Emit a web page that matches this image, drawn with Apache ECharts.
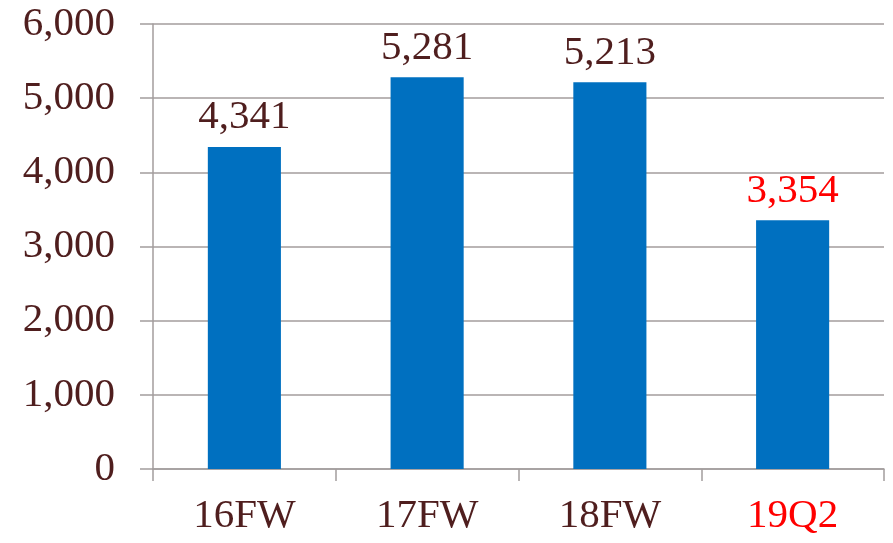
<!DOCTYPE html>
<html>
<head>
<meta charset="utf-8">
<script src="https://cdn.jsdelivr.net/npm/echarts@6/dist/echarts.min.js"></script>
<style>
html,body{margin:0;padding:0;background:#fff;}
#chart{width:893px;height:543px;}
</style>
</head>
<body>
<div id="chart"></div>
<script>
// categories and values
var categories = ['16FW', '17FW', '18FW', '19Q2'];
var values = [4341, 5281, 5213, 3354];
var yTicks = [0, 1000, 2000, 3000, 4000, 5000, 6000];

var textColor = '#4f1e1e';
var gridColor = '#a39d9d';
var red = '#ff0000';
var font = '"Liberation Serif", "Times New Roman", serif';

// last category is highlighted in red
function isLast(i) { return i === categories.length - 1; }

var myChart = echarts.init(document.getElementById('chart'));
myChart.setOption({
  animation: false,
  grid: { left: 153, right: 9, top: 24, bottom: 74 },
  xAxis: {
    type: 'category',
    data: categories.map(function (c, i) {
      return isLast(i) ? { value: c, textStyle: { color: red } } : c;
    }),
    axisLine: { lineStyle: { color: gridColor, width: 1.5 } },
    axisTick: { show: true, length: 12, lineStyle: { color: gridColor, width: 1.5 } },
    axisLabel: { color: textColor, fontFamily: font, fontSize: 41, margin: 27 }
  },
  yAxis: {
    type: 'value',
    min: yTicks[0],
    max: yTicks[yTicks.length - 1],
    interval: 1000,
    axisLine: { show: true, lineStyle: { color: gridColor, width: 1.5 } },
    axisTick: { show: true, length: 13, lineStyle: { color: gridColor, width: 1.5 } },
    splitLine: { lineStyle: { color: gridColor, width: 1.5 } },
    axisLabel: {
      color: textColor, fontFamily: font, fontSize: 41, margin: 38,
      formatter: function (v) { return v.toLocaleString('en-US'); }
    }
  },
  series: [{
    type: 'bar',
    barWidth: '40%',
    data: values.map(function (v, i) {
      return {
        value: v,
        label: { color: isLast(i) ? red : textColor }
      };
    }),
    itemStyle: { color: '#0070c0' },
    label: {
      show: true,
      position: 'top',
      distance: 9,
      fontFamily: font,
      fontSize: 41,
      formatter: function (p) { return p.value.toLocaleString('en-US'); }
    }
  }]
});
</script>
</body>
</html>
